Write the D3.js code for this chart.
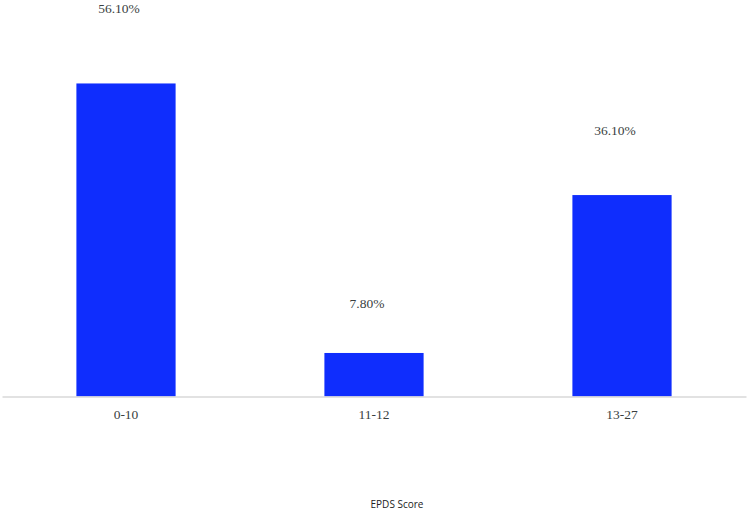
<!DOCTYPE html>
<html>
<head>
<meta charset="utf-8">
<script src="https://cdn.jsdelivr.net/npm/d3@7"></script>
<style>
  body { margin: 0; background: #fff; }
  svg { display: block; }
</style>
</head>
<body>
<svg id="chart" width="753" height="514"></svg>
<script>
// data
const categories = ["0-10", "11-12", "13-27"];
const values = [56.1, 7.8, 36.1];
const valueLabels = ["56.10%", "7.80%", "36.10%"];
const axisTitle = "EPDS Score";

let svg = d3.select("svg#chart");
let baseline = 396.5;

// x: band scale for the three score groups
let xScale = d3.scaleBand()
    .domain(categories)
    .range([2, 746])
    .paddingInner(0.6)
    .paddingOuter(0.3);

// y: percent
let yScale = d3.scaleLinear().domain([0, 60]).range([baseline, baseline - 334.8]);

// value labels float above the bars, spaced a little wider than the bars
let labelScale = d3.scaleLinear().domain([0, 60]).range([baseline - 41, baseline - 41 - 366]);

// bars
svg.append("g")
    .selectAll("rect")
    .data(values)
    .join("rect")
    .attr("x", (d, i) => xScale(categories[i]))
    .attr("y", d => yScale(d))
    .attr("width", xScale.bandwidth())
    .attr("height", d => baseline - yScale(d))
    .attr("fill", "#0f2dfd");

// x axis
let bottomAxis = d3.axisBottom(xScale).tickSize(0).tickPadding(13);
let xAxis = svg.append("g")
    .attr("transform", "translate(0," + baseline + ")")
    .call(bottomAxis);
xAxis.select(".domain").attr("stroke", "#d9d9d9").attr("stroke-width", 1.5);
xAxis.selectAll("text")
    .attr("font-family", "'Liberation Serif', 'Times New Roman', serif")
    .attr("font-size", 13.5)
    .attr("fill", "#3a3f3f");

// value labels
svg.append("g")
    .selectAll("text")
    .data(values)
    .join("text")
    .attr("x", (d, i) => xScale(categories[i]) + xScale.bandwidth() / 2 - 7)
    .attr("y", d => labelScale(d))
    .attr("text-anchor", "middle")
    .attr("font-family", "'Liberation Serif', 'Times New Roman', serif")
    .attr("font-size", 13.5)
    .attr("fill", "#3a3f3f")
    .text((d, i) => valueLabels[i]);

// axis title
svg.append("text")
    .attr("x", 397)
    .attr("y", 508)
    .attr("text-anchor", "middle")
    .attr("font-family", "'Open Sans', 'Liberation Sans', sans-serif")
    .attr("font-size", 10)
    .attr("fill", "#222")
    .text(axisTitle);
</script>
</body>
</html>
